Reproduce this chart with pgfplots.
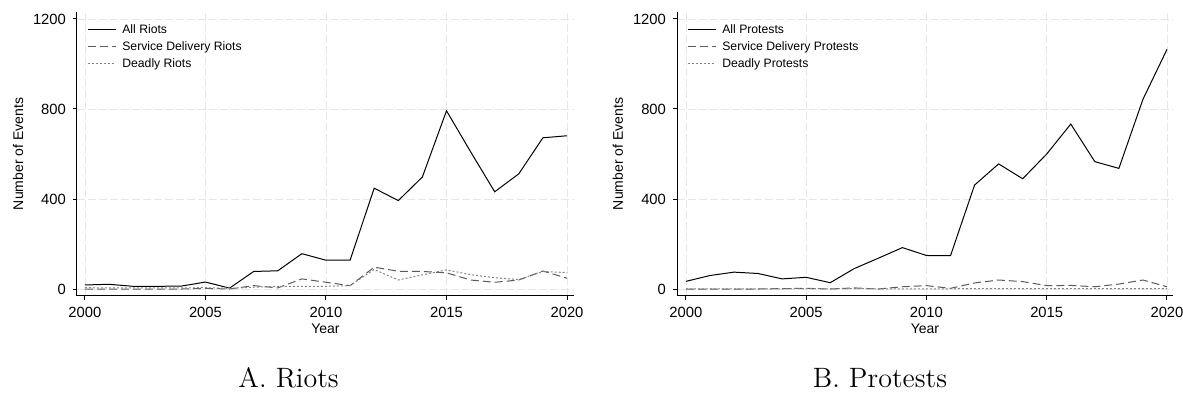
\documentclass[border=0pt]{standalone}
\usepackage{fontspec}
\newfontfamily\arial{Liberation Sans}
\usepackage{pgfplots}
\pgfplotsset{compat=1.18}
\definecolor{sdgray}{HTML}{5A5A5A}
\definecolor{dgray}{HTML}{858585}
\definecolor{gridgray}{HTML}{E6E6E6}
\pgfplotsset{stata/.style={
  scale only axis, height=142pt,
  ymin=-31, ymax=1231,
  axis x line*=bottom, axis y line*=left,
  axis line style={line width=0.5pt, black},
  xtick={2000,2005,2010,2015,2020}, ytick={0,400,800,1200},
  tick align=outside, major tick length=2pt,
  tick style={line width=0.5pt, black},
  /pgf/number format/assume math mode=true,
  /pgf/number format/1000 sep={},
  ticklabel style={font=\arial\fontsize{7.4}{8}\selectfont},
  label style={font=\arial\fontsize{7}{8}\selectfont},
  grid=major,
  major grid style={gridgray, line width=0.4pt, dash pattern=on 4pt off 1.5pt},
  xlabel={Year},
  xlabel style={at={(axis description cs:0.5,0)}, anchor=center, yshift=-16.5pt},
  ylabel={Number of Events},
  legend style={at={(0.02,0.962)}, anchor=north west, draw=none, fill=none,
     font=\arial\fontsize{6.1}{7}\selectfont, inner sep=0pt, row sep=1.7pt, column sep=2.5pt,
     nodes={text height=4.5pt, text depth=1.3pt, inner sep=0.5pt}},
  legend cell align=left,
  legend image code/.code={\draw[#1] (0pt,0pt) -- (14pt,0pt);},
  every axis plot/.append style={line width=0.5pt, mark=none},
  allst/.style={black, solid},
  sdst/.style={sdgray, dash pattern=on 4pt off 2pt},
  ddst/.style={dgray, dash pattern=on 1pt off 1pt},
}}
\begin{document}
\begin{tikzpicture}
\path[use as bounding box] (0,0) rectangle (591.5pt,198pt);
\begin{axis}[stata, at={(38.5pt,50pt)}, anchor=south west, width=248.5pt,
  xmin=1999.67, xmax=2020.29,
  ylabel style={at={(axis description cs:-0.1187,0.5)}, anchor=center}]
\addplot[allst] coordinates {(2000,18) (2001,21) (2002,12) (2003,12) (2004,13) (2005,31) (2006,4) (2007,78) (2008,81) (2009,157) (2010,128) (2011,128) (2012,448) (2013,393) (2014,498) (2015,792) (2016,610) (2017,432) (2018,512) (2019,672) (2020,681)};
\addlegendentry{All Riots}
\addplot[sdst] coordinates {(2000,0) (2001,0) (2002,0) (2003,0) (2004,0) (2005,3) (2006,0) (2007,15) (2008,5) (2009,45) (2010,30) (2011,15) (2012,97) (2013,79) (2014,78) (2015,72) (2016,40) (2017,30) (2018,40) (2019,80) (2020,48)};
\addlegendentry{Service Delivery Riots}
\addplot[ddst] coordinates {(2000,6) (2001,5) (2002,5) (2003,5) (2004,5) (2005,6) (2006,3) (2007,8) (2008,12) (2009,12) (2010,12) (2011,15) (2012,87) (2013,40) (2014,63) (2015,85) (2016,64) (2017,50) (2018,42) (2019,78) (2020,73)};
\addlegendentry{Deadly Riots}
\end{axis}
\begin{axis}[stata, at={(338.5pt,50pt)}, anchor=south west, width=248pt,
  xmin=1999.63, xmax=2020.25,
  ylabel style={at={(axis description cs:-0.1190,0.5)}, anchor=center}]
\addplot[allst] coordinates {(2000,34) (2001,60) (2002,75) (2003,69) (2004,45) (2005,52) (2006,28) (2007,91) (2008,137) (2009,184) (2010,149) (2011,148) (2012,462) (2013,556) (2014,490) (2015,600) (2016,733) (2017,566) (2018,536) (2019,843) (2020,1065)};
\addlegendentry{All Protests}
\addplot[sdst] coordinates {(2000,0) (2001,0) (2002,0) (2003,0) (2004,2) (2005,3) (2006,0) (2007,5) (2008,0) (2009,10) (2010,15) (2011,3) (2012,27) (2013,40) (2014,33) (2015,15) (2016,16) (2017,10) (2018,22) (2019,40) (2020,10)};
\addlegendentry{Service Delivery Protests}
\addplot[ddst] coordinates {(2000,1) (2001,1) (2002,1) (2003,1) (2004,1) (2005,2) (2006,1) (2007,2) (2008,1) (2009,1) (2010,1) (2011,1) (2012,2) (2013,2) (2014,2) (2015,2) (2016,2) (2017,2) (2018,2) (2019,2) (2020,2)};
\addlegendentry{Deadly Protests}
\end{axis}
\node[font=\fontsize{14}{16}\selectfont, anchor=base] at (144.3pt,4pt) {A. Riots};
\node[font=\fontsize{14}{16}\selectfont, anchor=base] at (440pt,4pt) {B. Protests};
\end{tikzpicture}
\end{document}
